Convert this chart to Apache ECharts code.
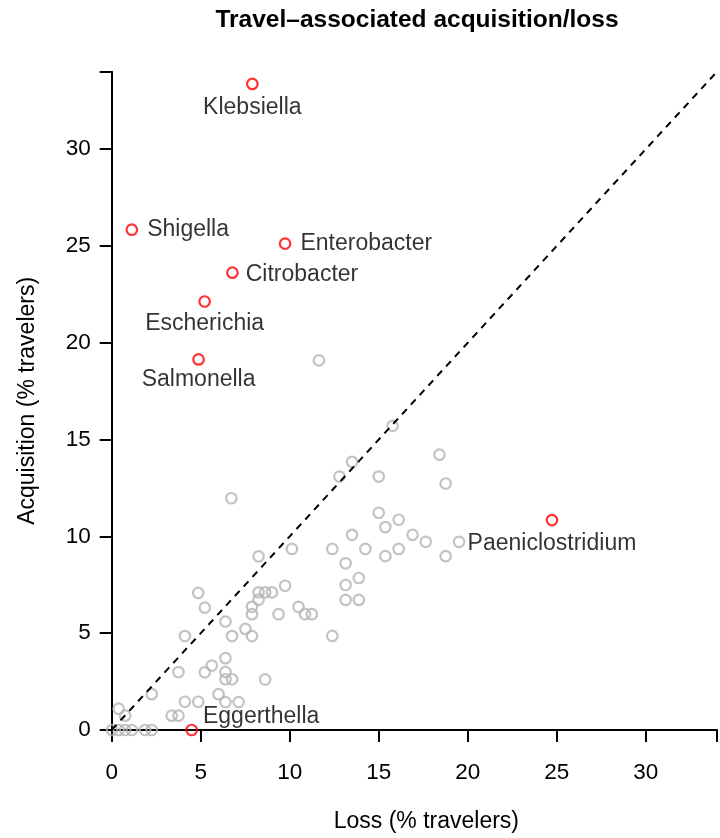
<!DOCTYPE html>
<html>
<head>
<meta charset="utf-8">
<script src="https://cdn.jsdelivr.net/npm/echarts@6/dist/echarts.min.js"></script>
<style>
html,body{margin:0;padding:0;background:#fff;}
#chart{width:720px;height:838px;}
</style>
</head>
<body>
<div id="chart"></div>
<script>
// ---- data ----
var grayLoss = [11.64,15.78,18.41,13.5,12.79,15.0,18.76,6.72,15.0,16.12,15.37,13.5,16.9,17.64,19.51,10.12,12.39,14.25,16.12,8.25,15.37,18.76,13.14,13.88,13.14,9.74,13.14,13.88,4.86,8.25,8.62,9.0,8.25,5.23,7.88,10.49,7.88,9.37,10.86,11.24,6.39,7.51,4.11,6.76,7.88,12.39,6.39,5.62,3.75,5.23,6.39,6.39,6.76,8.62,2.25,6.0,4.11,4.86,6.39,7.13,0.39,0.76,3.37,3.75,0.02,0.39,0.76,1.13,1.88,2.25];
var grayAcq  = [19.09,15.71,14.22,13.85,13.09,13.09,12.73,11.97,11.22,10.86,10.48,10.08,10.08,9.72,9.72,9.35,9.35,9.35,9.35,8.97,8.98,8.98,8.61,7.85,7.49,7.45,6.72,6.72,7.08,7.11,7.11,7.11,6.73,6.32,6.36,6.36,5.98,5.98,5.98,5.98,5.6,5.22,4.85,4.85,4.85,4.86,3.71,3.33,2.99,2.98,3.0,2.62,2.62,2.61,1.85,1.85,1.46,1.46,1.44,1.44,1.1,0.74,0.74,0.74,0,0,0,0,0,0];
var redNames = ['Klebsiella','Shigella','Enterobacter','Citrobacter','Escherichia','Salmonella','Paeniclostridium','Eggerthella'];
var redLoss  = [7.9,1.13,9.74,6.78,5.22,4.88,24.73,4.49];
var redAcq   = [33.37,25.84,25.12,23.62,22.13,19.14,10.84,0];
var xTicks = [0,5,10,15,20,25,30];
var yTicks = [0,5,10,15,20,25,30];
var axisMax = 34;

// ---- label placement (style) ----
var placement = {
  'Klebsiella':      {position:'bottom', distance:6},
  'Shigella':        {position:'right', distance:9},
  'Enterobacter':    {position:'right', distance:9},
  'Citrobacter':     {position:'right', distance:7, offset:[0,2]},
  'Escherichia':     {position:'bottom', distance:4},
  'Salmonella':      {position:'bottom', distance:2},
  'Paeniclostridium':{position:'bottom', distance:6},
  'Eggerthella':     {position:'right', distance:5, offset:[0,-13]}
};

var FONT = 'Liberation Sans, Arial, Helvetica, sans-serif';
var grayData = grayLoss.map(function(v,i){return [v, grayAcq[i]];});
var redData = redNames.map(function(n,i){
  var p = placement[n];
  return {name:n, value:[redLoss[i], redAcq[i]],
    label:Object.assign({show:true, formatter:n, color:'#000', fontSize:23, fontFamily:FONT}, p)};
});

var chart = echarts.init(document.getElementById('chart'), null, {renderer:'canvas'});
chart.setOption({
  animation:false,
  backgroundColor:'#fff',
  graphic:[{
    type:'text', x:417, y:20,
    style:{text:'Travel\u2013associated acquisition/loss', font:'bold 24.5px ' + FONT, fill:'#000', align:'center', verticalAlign:'middle', textAlign:'center', textVerticalAlign:'middle'}
  }],
  grid:{left:111.7, right:0, top:71.7, bottom:106.7, containLabel:false},
  xAxis:{
    type:'value', min:0, max:axisMax, interval:5,
    name:'Loss (% travelers)', nameLocation:'middle', nameGap:80,
    nameTextStyle:{fontSize:23, color:'#000', fontFamily:FONT, padding:[0,0,0,24]},
    axisLine:{show:true, lineStyle:{color:'#000', width:2}},
    axisTick:{show:true, length:12, lineStyle:{color:'#000', width:2}},
    axisLabel:{margin:31, fontSize:22.5, color:'#000', fontFamily:FONT,
      formatter:function(v){return xTicks.indexOf(v)>=0 ? String(v) : '';}},
    splitLine:{show:false}
  },
  yAxis:{
    type:'value', min:0, max:axisMax, interval:5,
    name:'Acquisition (% travelers)', nameLocation:'middle', nameGap:73,
    nameTextStyle:{fontSize:23, color:'#000', fontFamily:FONT},
    axisLine:{show:true, lineStyle:{color:'#000', width:2}},
    axisTick:{show:true, length:12, lineStyle:{color:'#000', width:2}},
    axisLabel:{margin:21, fontSize:22.5, color:'#000', fontFamily:FONT,
      formatter:function(v){return yTicks.indexOf(v)>=0 ? String(v) : '';}},
    splitLine:{show:false}
  },
  series:[
    {
      type:'scatter', data:grayData, symbol:'circle', symbolSize:10.5, clip:false,
      itemStyle:{color:'rgba(255,255,255,0)', borderColor:'#b4b4b4', borderWidth:2.2},
      markLine:{
        silent:true, symbol:['none','none'],
        lineStyle:{color:'#000', width:2, type:[7,6]},
        label:{show:false},
        data:[[{coord:[0,0]},{coord:[axisMax,axisMax]}]]
      },
      z:2
    },
    {
      type:'scatter', data:redData, symbol:'circle', symbolSize:10.5, clip:false,
      itemStyle:{color:'rgba(255,255,255,0)', borderColor:'#ff0000', borderWidth:2.2},
      label:{show:true, color:'#000', fontSize:23, fontFamily:FONT},
      z:3
    }
  ]
});
</script>
</body>
</html>
